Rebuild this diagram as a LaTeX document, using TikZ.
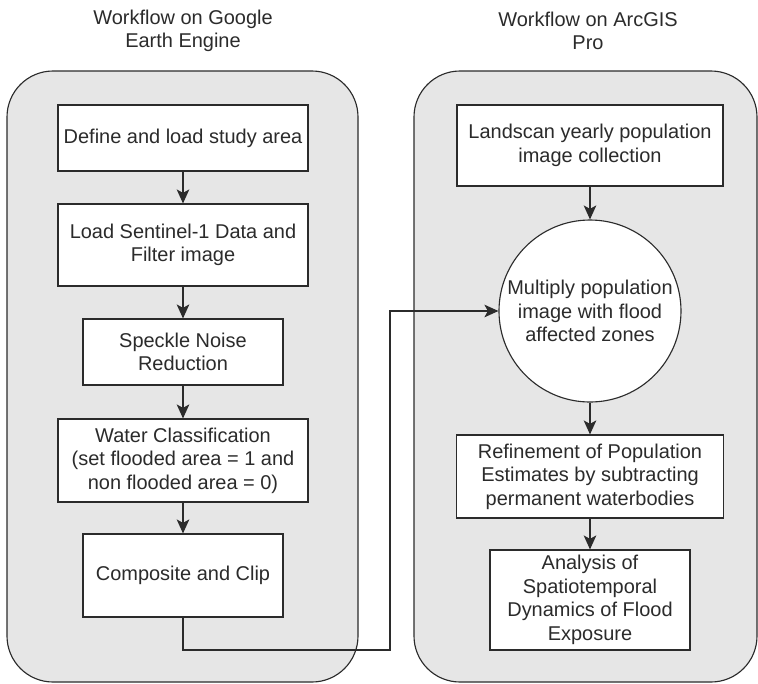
\documentclass[tikz,border=0pt]{standalone}
\usepackage{fontspec}
\setmainfont{Liberation Sans}
\usepackage{xcolor}
\usepackage{tikz}
\usetikzlibrary{shapes,arrows.meta,positioning}

\definecolor{panelgray}{HTML}{E6E6E6}
\definecolor{inkgray}{HTML}{2B2B2B}

\begin{document}
\begin{tikzpicture}[
    every node/.style={font=\fontsize{14.2}{16.8}\selectfont, text=inkgray, align=center},
    panel/.style={draw=inkgray, line width=0.8pt, fill=panelgray, rounded corners=1.15cm},
    stepbox/.style={draw=inkgray, line width=0.8pt, fill=white, inner sep=2pt},
    flow/.style={draw=inkgray, line width=0.9pt, -{Stealth[length=10pt, width=9pt, inset=2.5pt]}}
]
    \useasboundingbox (0,0) rectangle (18.95,-17.075);

    % Panels
    \node[panel, minimum width=8.775cm, minimum height=15.275cm] (gee_box) at (4.5625,-9.4125) {};
    \node[panel, minimum width=8.575cm, minimum height=15.275cm] (arc_box) at (14.6375,-9.4125) {};

    % Titles
    \node (gee_title) at (4.575,-0.775) {Workflow on Google\\Earth Engine};
    \node (arc_title) at (14.7,-0.775) {Workflow on ArcGIS\\Pro};

    % Google Earth Engine steps
    \node[stepbox, minimum width=6.25cm, minimum height=1.65cm] (define_area) at (4.575,-3.45) {Define and load study area};
    \node[stepbox, minimum width=6.25cm, minimum height=2.05cm] (load_s1) at (4.575,-6.125) {Load Sentinel-1 Data and\\Filter image};
    \node[stepbox, minimum width=5cm, minimum height=1.65cm] (speckle) at (4.575,-8.8) {Speckle Noise\\Reduction};
    \node[stepbox, minimum width=6.25cm, minimum height=2.075cm] (water_class) at (4.575,-11.5125) {Water Classification\\(set flooded area = 1 and\\non flooded area = 0)};
    \node[stepbox, minimum width=5cm, minimum height=2.075cm] (comp_clip) at (4.575,-14.3875) {Composite and Clip};

    % ArcGIS Pro steps
    \node[stepbox, minimum width=6.65cm, minimum height=2.025cm] (landscan) at (14.75,-3.6375) {Landscan yearly population\\image collection};
    \node[stepbox, circle, minimum size=4.55cm, inner sep=0pt] (multiply) at (14.75,-7.775) {Multiply population\\image with flood\\affected zones};
    \node[stepbox, minimum width=6.675cm, minimum height=2.075cm] (refine) at (14.75,-11.9125) {Refinement of Population\\Estimates by subtracting\\permanent waterbodies};
    \node[stepbox, minimum width=5cm, minimum height=2.5cm] (analysis) at (14.75,-15.0) {Analysis of\\Spatiotemporal\\Dynamics of Flood\\Exposure};

    % Arrows
    \draw[flow] (define_area) -- (load_s1);
    \draw[flow] (load_s1) -- (speckle);
    \draw[flow] (speckle) -- (water_class);
    \draw[flow] (water_class) -- (comp_clip);
    \draw[flow] (landscan) -- (multiply);
    \draw[flow] (multiply) -- (refine);
    \draw[flow] (refine) -- (analysis);

    % Link between the two workflows
    \coordinate (link_bend) at (9.75,-16.25);
    \draw[flow] (comp_clip.south) |- (link_bend) |- (multiply.west);
\end{tikzpicture}
\end{document}
